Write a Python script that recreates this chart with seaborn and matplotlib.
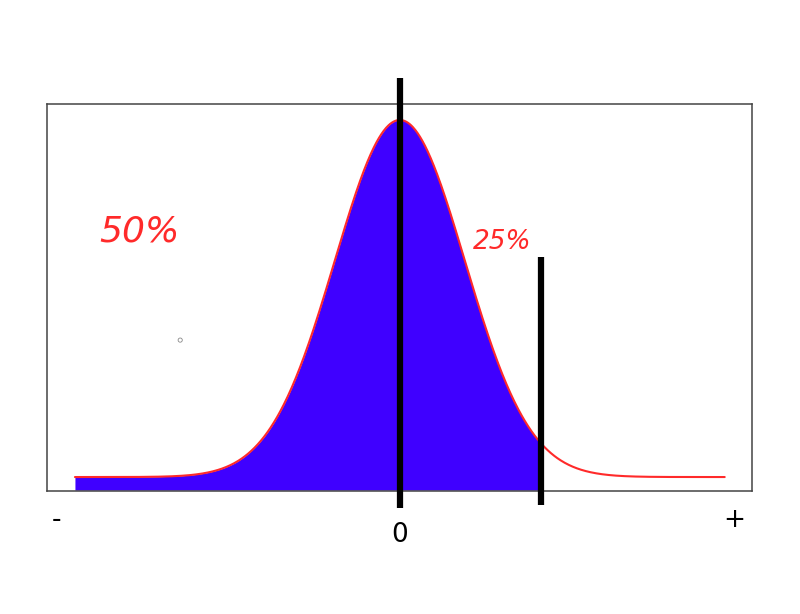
import numpy as np
import pandas as pd
import matplotlib
matplotlib.use("Agg")
import matplotlib.pyplot as plt
import seaborn as sns

# ---- chart values ----
MEAN = 0.0
SD = 1.0
X_START, X_END = -5.0, 5.0          # extent of the drawn curve
CUTOFF = 2.17                        # right edge of the shaded area
tick_positions = [-5.28, 0.0, 5.15]
tick_labels = ["-", "0", "+"]
annotations = ["50%", "25%"]
annot_x = [-4.0, 1.58]
annot_y = [0.274, 0.2626]

xs = np.linspace(X_START, X_END, 801)
density = np.exp(-0.5 * ((xs - MEAN) / SD) ** 2) / (SD * np.sqrt(2 * np.pi))
df = pd.DataFrame({"x": xs, "density": density})

sns.set_theme(style="white")
plt.rcParams["font.family"] = ["DejaVu Sans"]

fig = plt.figure(figsize=(8, 6.14), dpi=100)
ax = fig.add_axes([47 / 800, 1 - 491 / 614, (752 - 47) / 800, (491 - 104) / 614])

XMIN, XMAX = -5.43, 5.42
YMIN, YMAX = -0.0156, 0.4168
ax.set_xlim(XMIN, XMAX)
ax.set_ylim(YMIN, YMAX)

mask = df["x"] <= CUTOFF
ax.fill_between(df["x"][mask], YMIN + 0.001, df["density"][mask],
                color="#3f00ff", linewidth=0, zorder=2)
sns.lineplot(data=df, x="x", y="density", ax=ax, color="#ff2a2a",
             linewidth=1.5, zorder=3)

# vertical black markers
ax.plot([MEAN, MEAN], [-0.0346, 0.4458], color="black", linewidth=4.5,
        clip_on=False, zorder=5, solid_capstyle="butt")
ax.plot([CUTOFF, CUTOFF], [-0.0313, 0.2458], color="black", linewidth=4.5,
        clip_on=False, zorder=5, solid_capstyle="butt")

# percentage annotations
ax.text(annot_x[0], annot_y[0], annotations[0], color="#ff2a2a", fontsize=26,
        fontstyle="italic", fontweight="light", ha="center", va="center",
        zorder=6)
ax.text(annot_x[1], annot_y[1], annotations[1], color="#ff2a2a", fontsize=19,
        fontstyle="italic", fontweight="light", ha="center", va="center",
        zorder=6)

# tiny stray circle
ax.scatter([-3.38], [0.153], s=9, facecolor="none", edgecolor="#888888",
           linewidth=0.6, zorder=4)

# axis labels as text
ax.set_xticks([])
ax.set_yticks([])
ax.set_xlabel("")
ax.set_ylabel("")
label_y = [-0.048, -0.0648, -0.048]
for xp, lab, yp in zip(tick_positions, tick_labels, label_y):
    ax.text(xp, yp, lab, fontsize=19, color="black", ha="center", va="center",
            clip_on=False)

for sp in ax.spines.values():
    sp.set_color("#444444")
    sp.set_linewidth(1.1)
    sp.set_visible(True)

fig.savefig("out.png", dpi=100)
